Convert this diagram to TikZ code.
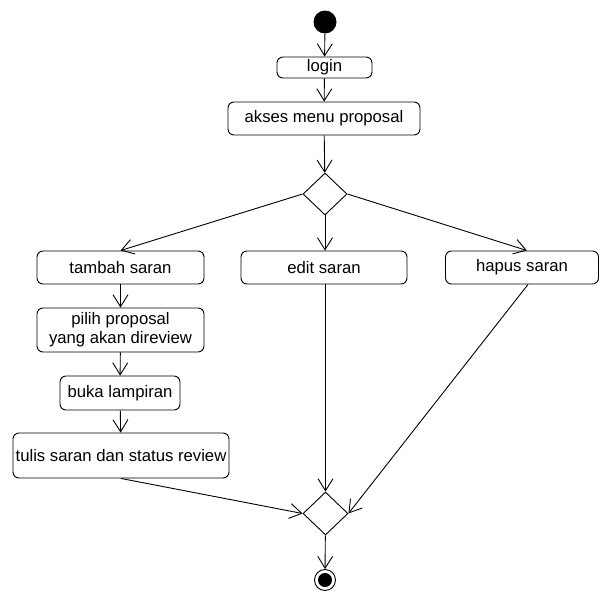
\documentclass[tikz,border=0pt]{standalone}
\usepackage{fontspec}
\setmainfont{Liberation Sans}
\usetikzlibrary{shapes.geometric,arrows.meta}

\begin{document}
\begin{tikzpicture}[x=1pt, y=-1pt, line width=0.9pt, >={Straight Barb[length=12pt,width=15pt]},
	act/.style = {draw, rounded corners=6pt, inner sep=0pt, align=center, font=\fontsize{16.7}{19}\selectfont},
	dec/.style = {draw, diamond, inner sep=0pt, minimum width=44pt, minimum height=42pt}]
	\useasboundingbox (0,0) rectangle (600,592);
	
	\node[circle, fill, inner sep=0pt, minimum size=23pt] (st) at (325,22) {};
	\node[act, minimum width=95pt, minimum height=21pt] (login) at (324.5,67.5) {login};
	\node[act, minimum width=192pt, minimum height=33pt] (akses) at (324,118.5) {akses menu proposal};
	\node[dec] (d1) at (325,194) {};
	
	\node[act, minimum width=167pt, minimum height=33pt] (tambah) at (120.5,267.5) {tambah saran};
	\node[act, minimum width=166pt, minimum height=33pt] (edit) at (324,267.5) {edit saran};
	\node[act, minimum width=153pt, minimum height=33pt] (hapus) at (522,267.5) {hapus saran};
	
	\node[act, minimum width=167pt, minimum height=44pt] (pilih) at (120.5,330) {pilih proposal\\yang akan direview};
	\node[act, minimum width=120pt, minimum height=34pt] (buka) at (120,393) {buka lampiran};
	\node[act, minimum width=216pt, minimum height=45pt] (tulis) at (121,455.5) {tulis saran dan status review};
	
	\node[dec, minimum width=45pt, minimum height=43pt] (d2) at (325.5,513.5) {};
	\node[circle, draw, inner sep=0pt, minimum size=21pt,
		path picture={\fill (path picture bounding box.center) circle (7pt);}] (end) at (325,580) {};
	
	
	\draw[->] (st) -- (login);
	\draw[->] (login) -- (akses);
	\draw[->] (akses) -- (d1);
	\draw[->] (d1.west) -- (tambah.north);
	\draw[->] (d1.south) -- (d1.south |- edit.north);
	\draw[->] (d1.east) -- ([xshift=5pt]hapus.north);
	\draw[->] (tambah) -- (pilih);
	\draw[->] (pilih) -- (buka);
	\draw[->] (buka) -- (tulis);
	\draw[->] (tulis.south) -- (d2.west);
	\draw[->] (d2.north |- edit.south) -- (d2.north);
	\draw[->] ([xshift=6pt]hapus.south) -- (d2.east);
	\draw[->] (d2) -- (end);
	
	
\end{tikzpicture}
\end{document}
